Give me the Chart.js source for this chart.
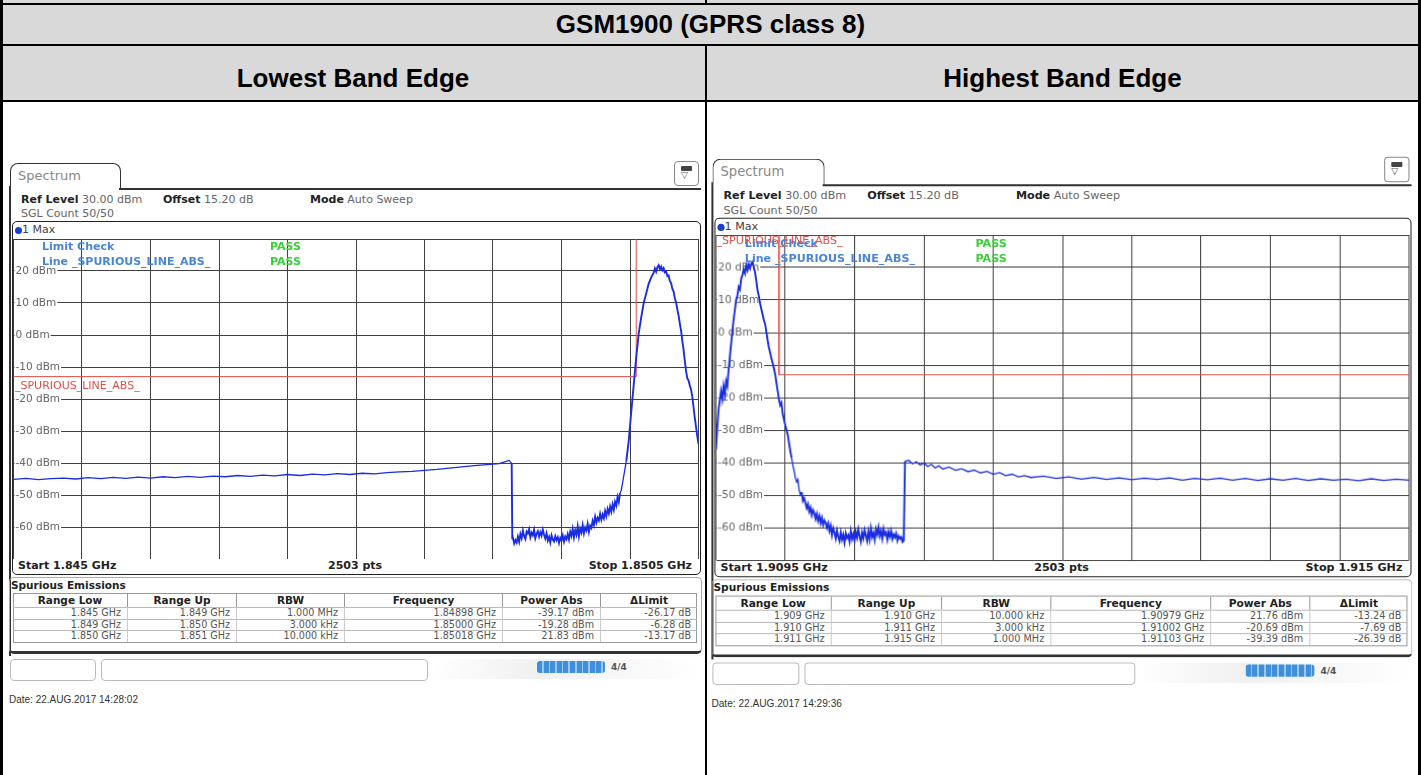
<!DOCTYPE html>
<html>
<head>
<meta charset="utf-8">
<title>GSM1900 (GPRS class 8) band edge</title>
<script src="https://cdn.jsdelivr.net/npm/chart.js@4.4.1/dist/chart.umd.min.js"></script>
<style>
html,body{margin:0;padding:0;background:#fff;}
#page{position:relative;width:1421px;height:775px;overflow:hidden;background:#fff;}
.blk{position:absolute;background:#000;}
.gray{position:absolute;background:#d9d9d9;}
.ttl{position:absolute;font-family:"Liberation Sans",Arial,sans-serif;font-weight:bold;font-size:26px;color:#000;text-align:center;line-height:30px;white-space:nowrap;}
.panel{position:absolute;left:0;top:0;width:712px;height:720px;transform-origin:0 0;font-family:"DejaVu Sans",sans-serif;}
.panel div{position:absolute;white-space:nowrap;}
.t{font-size:11px;line-height:14px;color:#666;}
.t b{color:#222;}
.tab{border:1.5px solid #333;border-bottom:none;border-radius:8px 8px 0 0;background:#fff;color:#888;font-size:13px;line-height:24px;padding-left:7px;box-sizing:border-box;}
.frame{border:1.5px solid #222;border-radius:5px;box-sizing:border-box;background:#fff;}
.lbl{font-size:11px;line-height:14px;font-weight:bold;}
.cell{box-sizing:border-box;font-size:9.6px;line-height:11px;color:#555;text-align:right;padding-right:6px;overflow:hidden;}
.hcell{box-sizing:border-box;font-size:10.5px;line-height:13px;color:#222;font-weight:bold;text-align:center;border-right:1px solid #999;}
</style>
</head>
<body>
<div id="page">
  <!-- outer table -->
  <div class="gray" style="left:0;top:0;width:1421px;height:3px"></div>
  <div class="gray" style="left:0;top:5px;width:1421px;height:39px"></div>
  <div class="gray" style="left:0;top:46px;width:1421px;height:54px"></div>
  <div class="blk" style="left:0;top:3px;width:1421px;height:2px"></div>
  <div class="blk" style="left:0;top:44px;width:1421px;height:2px"></div>
  <div class="blk" style="left:0;top:100px;width:1421px;height:2px"></div>
  <div class="blk" style="left:0;top:0;width:3px;height:775px"></div>
  <div class="blk" style="left:1418px;top:0;width:3px;height:775px"></div>
  <div class="blk" style="left:705px;top:0;width:2px;height:3px"></div>
  <div class="blk" style="left:705px;top:46px;width:2px;height:729px"></div>
  <div class="ttl" style="left:0;top:9px;width:1421px">GSM1900 (GPRS class 8)</div>
  <div class="ttl" style="left:0;top:63px;width:706px">Lowest Band Edge</div>
  <div class="ttl" style="left:706px;top:63px;width:713px">Highest Band Edge</div>

  <div class="panel" id="pL"></div>
  <div class="panel" id="pR" style="transform:translate(702.3px,-6.7px) scale(1.0117,1.0156)"></div>
</div>

<script>
// ---------------- data ----------------
// Left panel: lowest band edge, frequency in MHz, level in dBm
const leftFreq = [
  1845.0,1845.1,1845.2,1845.3,1845.4,1845.5,1845.6,1845.7,1845.8,1845.9,
  1846.0,1846.1,1846.2,1846.3,1846.4,1846.5,1846.6,1846.7,1846.8,1846.9,
  1847.0,1847.1,1847.2,1847.3,1847.4,1847.5,1847.6,1847.7,1847.8,1847.9,
  1848.0,1848.1,1848.2,1848.3,1848.4,1848.5,1848.6,1848.7,1848.8,1848.9,
  1848.95,1848.98,1849.0,1849.005,
  1849.01,1849.02,1849.03,1849.04,1849.05,1849.06,1849.07,1849.08,1849.09,1849.10,
  1849.11,1849.12,1849.13,1849.14,1849.15,1849.16,1849.17,1849.18,1849.19,1849.20,
  1849.21,1849.22,1849.23,1849.24,1849.25,1849.26,1849.27,1849.28,1849.29,1849.30,
  1849.31,1849.32,1849.33,1849.34,1849.35,1849.36,1849.37,1849.38,1849.39,1849.40,
  1849.41,1849.42,1849.43,1849.44,1849.45,1849.46,1849.47,1849.48,1849.49,1849.50,
  1849.51,1849.52,1849.53,1849.54,1849.55,1849.56,1849.57,1849.58,1849.59,1849.60,
  1849.61,1849.62,1849.63,1849.64,1849.65,1849.66,1849.67,1849.68,1849.69,1849.70,
  1849.71,1849.72,1849.73,1849.74,1849.75,1849.76,1849.77,1849.78,1849.79,1849.80,
  1849.81,1849.82,1849.83,1849.84,1849.85,1849.86,1849.87,1849.88,1849.90,1849.92,
  1849.94,1849.96,1849.98,1850.00,1850.02,1850.04,1850.06,1850.08,1850.10,1850.12,
  1850.14,1850.15,1850.16,1850.17,1850.18,1850.19,1850.20,1850.21,1850.22,1850.23,
  1850.24,1850.25,1850.26,1850.27,1850.28,1850.29,1850.30,1850.31,1850.32,1850.33,
  1850.34,1850.35,1850.36,1850.37,1850.38,1850.39,1850.40,1850.41,1850.42,1850.43,
  1850.44,1850.45,1850.46,1850.47,1850.48,1850.49,1850.50
];
const leftLevel = [
  -45.1,-44.8,-45.2,-44.9,-44.7,-45.0,-44.6,-44.9,-44.5,-44.8,
  -44.4,-44.7,-44.3,-44.6,-44.2,-44.5,-44.1,-44.3,-43.9,-44.2,
  -43.8,-44.0,-43.6,-43.9,-43.5,-43.7,-43.3,-43.6,-43.2,-43.4,
  -43.0,-42.8,-42.6,-42.3,-42.0,-41.6,-41.2,-40.8,-40.5,-40.2,
  -39.6,-39.2,-40.1,-63.5,
  -63.4,-65.2,-64.1,-64.9,-63.0,-64.6,-62.2,-63.5,-61.1,-62.9,
  -63.8,-61.4,-62.0,-60.7,-63.2,-61.8,-62.6,-60.9,-63.5,-62.1,
  -61.3,-63.0,-61.6,-62.7,-60.8,-62.4,-63.6,-62.0,-64.2,-63.1,
  -64.8,-62.6,-63.9,-64.5,-62.9,-64.1,-63.2,-65.0,-63.4,-64.3,
  -62.7,-64.6,-63.0,-63.8,-62.2,-63.9,-61.5,-62.8,-60.6,-63.2,
  -61.0,-62.4,-59.8,-62.9,-60.5,-61.7,-59.4,-62.0,-60.2,-61.1,
  -59.0,-61.5,-59.6,-60.3,-58.1,-59.4,-56.8,-58.6,-57.2,-58.0,
  -55.9,-57.7,-56.1,-57.3,-55.0,-56.6,-54.4,-55.8,-53.6,-55.2,
  -52.9,-54.6,-52.1,-53.3,-50.6,-52.2,-49.4,-48.5,-44.0,-39.5,
  -33.0,-24.0,-15.5,-7.0,0.5,5.5,10.0,13.0,16.0,18.0,
  19.5,20.8,19.8,21.2,21.83,20.6,21.4,20.2,20.9,19.6,
  19.9,18.4,18.6,16.9,16.2,14.5,13.6,11.5,10.2,8.0,
  6.1,3.6,1.4,-1.8,-4.6,-8.0,-11.2,-13.5,-14.2,-15.8,
  -17.0,-19.2,-22.5,-25.8,-28.6,-31.5,-34.0
];
const leftLimitFreq = [1845, 1850, 1850];
const leftLimitLevel = [-13, -13, 30];

// Right panel: highest band edge
const rightFreq = [
  1909.50,1909.51,1909.52,1909.53,1909.54,1909.55,1909.56,1909.57,1909.58,1909.59,
  1909.60,1909.61,1909.62,1909.63,1909.64,1909.65,1909.66,1909.67,1909.68,1909.69,
  1909.70,1909.71,1909.72,1909.73,1909.74,1909.75,1909.76,1909.77,1909.78,1909.79,
  1909.80,1909.81,1909.82,1909.83,1909.84,1909.85,1909.86,1909.87,1909.88,1909.89,
  1909.90,1909.91,1909.92,1909.93,1909.94,1909.95,1909.96,1909.97,1909.98,1909.99,
  1910.00,1910.01,1910.02,1910.03,1910.04,1910.05,1910.06,1910.07,1910.08,1910.09,
  1910.10,1910.11,1910.12,1910.13,1910.14,1910.15,1910.16,1910.17,1910.18,1910.19,
  1910.20,1910.21,1910.22,1910.23,1910.24,1910.25,1910.26,1910.27,1910.28,1910.29,
  1910.30,1910.31,1910.32,1910.33,1910.34,1910.35,1910.36,1910.37,1910.38,1910.39,
  1910.40,1910.41,1910.42,1910.43,1910.44,1910.45,1910.46,1910.47,1910.48,1910.49,
  1910.50,1910.51,1910.52,1910.53,1910.54,1910.55,1910.56,1910.57,1910.58,1910.59,
  1910.60,1910.61,1910.62,1910.63,1910.64,1910.65,1910.66,1910.67,1910.68,1910.69,
  1910.70,1910.71,1910.72,1910.73,1910.74,1910.75,1910.76,1910.77,1910.78,1910.79,
  1910.80,1910.81,1910.82,1910.83,1910.84,1910.85,1910.86,1910.87,1910.88,1910.89,
  1910.90,1910.91,1910.92,1910.93,1910.94,1910.95,1910.96,1910.97,1910.98,1910.99,
  1911.00,1911.03,1911.06,1911.09,1911.12,1911.15,1911.18,1911.21,1911.24,
  1911.27,1911.30,1911.35,1911.40,1911.45,1911.50,1911.55,1911.60,1911.65,1911.70,
  1911.75,1911.80,1911.85,1911.90,1911.95,1912.0,1912.1,1912.2,1912.3,1912.4,
  1912.5,1912.6,1912.7,1912.8,1912.9,1913.0,1913.1,1913.2,1913.3,1913.4,
  1913.5,1913.6,1913.7,1913.8,1913.9,1914.0,1914.1,1914.2,1914.3,1914.4,
  1914.5,1914.6,1914.7,1914.8,1914.9,1915.0
];
const rightLevel = [
  -36.0,-29.5,-24.0,-21.0,-18.0,-20.5,-16.5,-19.0,-15.0,-16.5,
  -11.5,-7.5,-3.5,0.5,4.0,7.0,10.0,11.5,14.0,13.2,
  16.5,17.8,19.4,18.2,20.6,19.2,21.0,19.8,21.3,21.76,
  20.0,18.5,15.8,13.0,11.2,9.0,7.2,5.6,3.8,2.6,
  0.2,-2.4,-4.6,-6.2,-8.0,-9.4,-11.0,-12.8,-15.5,-18.0,
  -20.6,-22.4,-21.6,-25.0,-26.8,-28.5,-30.0,-31.5,-34.0,-36.5,
  -38.5,-40.8,-42.5,-44.6,-46.0,-45.2,-48.4,-50.0,-49.1,-51.8,
  -51.0,-52.4,-54.0,-52.8,-55.1,-53.9,-56.2,-54.6,-55.5,-57.3,
  -55.8,-57.9,-56.4,-58.6,-57.0,-59.2,-57.8,-58.5,-60.1,-58.7,
  -61.0,-59.4,-62.3,-60.2,-61.6,-63.4,-60.9,-62.8,-64.1,-61.5,
  -63.7,-62.2,-64.6,-61.8,-63.2,-62.4,-64.3,-61.1,-63.5,-62.0,
  -64.0,-61.4,-63.1,-60.5,-62.7,-64.4,-61.6,-63.3,-60.8,-62.5,
  -64.2,-61.2,-63.6,-60.3,-62.9,-61.7,-63.8,-60.6,-62.1,-59.9,
  -62.6,-61.0,-63.4,-60.4,-62.2,-61.5,-63.7,-61.3,-62.8,-61.0,
  -63.5,-62.1,-63.0,-61.8,-64.0,-62.6,-63.4,-62.9,-64.4,-64.0,
  -39.6,-39.39,-40.4,-39.8,-40.8,-40.2,-41.2,-40.6,-41.6,
  -41.0,-42.0,-41.4,-42.4,-41.9,-42.8,-42.3,-43.2,-42.7,-43.6,
  -43.1,-44.0,-43.6,-44.4,-44.0,-44.6,-44.2,-44.9,-44.4,-45.1,
  -44.6,-45.2,-44.7,-45.3,-44.8,-45.2,-44.7,-45.4,-44.9,-45.3,
  -44.8,-45.4,-44.9,-45.5,-45.0,-45.4,-44.9,-45.5,-45.0,-45.4,
  -45.1,-45.6,-45.0,-45.5,-45.1,-45.4
];
const rightLimitFreq = [1910, 1910, 1915];
const rightLimitLevel = [30, -13, -13];

// axis ranges and tick labels
const refLevel = 30, bottomLevel = -70, levelStep = 10;
const levelLabels = [20, 10, 0, -10, -20, -30, -40, -50, -60];
const leftRange = [1845.0, 1850.5];
const rightRange = [1909.5, 1915.0];
const xDivisions = 10;

// texts
const leftInfo = {start:'Start 1.845 GHz', stop:'Stop 1.8505 GHz', date:'Date: 22.AUG.2017  14:28:02', limitLabelTop:false};
const rightInfo = {start:'Start 1.9095 GHz', stop:'Stop 1.915 GHz', date:'Date: 22.AUG.2017  14:29:36', limitLabelTop:true};
const tableHeader = ['Range Low','Range Up','RBW','Frequency','Power Abs','\u0394Limit'];
const leftRows = [
  ['1.845 GHz','1.849 GHz','1.000 MHz','1.84898 GHz','-39.17 dBm','-26.17 dB'],
  ['1.849 GHz','1.850 GHz','3.000 kHz','1.85000 GHz','-19.28 dBm','-6.28 dB'],
  ['1.850 GHz','1.851 GHz','10.000 kHz','1.85018 GHz','21.83 dBm','-13.17 dB']
];
const rightRows = [
  ['1.909 GHz','1.910 GHz','10.000 kHz','1.90979 GHz','21.76 dBm','-13.24 dB'],
  ['1.910 GHz','1.911 GHz','3.000 kHz','1.91002 GHz','-20.69 dBm','-7.69 dB'],
  ['1.911 GHz','1.915 GHz','1.000 MHz','1.91103 GHz','-39.39 dBm','-26.39 dB']
];

// ---------------- layout ----------------
const colEdges = [13, 128, 237, 345, 503, 601, 697];

function buildPanel(el, info, rows, canvasId) {
  let h = '';
  h += '<div style="left:9px;top:186px;width:1.5px;height:470px;background:#333"></div>';
  h += '<div class="tab" style="left:10px;top:163px;width:111px;height:27px">Spectrum</div>';
  h += '<div style="left:119px;top:188px;width:582px;height:1.5px;background:#333"></div>';
  h += '<div style="left:674px;top:161px;width:25px;height:25px;border:1.2px solid #888;border-radius:4px;box-sizing:border-box;background:#fff">'
     + '<div style="left:6px;top:4px;width:11px;height:5px;background:#444;border-radius:1px"></div>'
     + '<div style="left:6px;top:8px;font-size:9px;line-height:10px;color:#555">\u25BD</div></div>';
  h += '<div class="t" style="left:21px;top:193px"><b>Ref Level</b> 30.00 dBm</div>';
  h += '<div class="t" style="left:163px;top:193px"><b>Offset</b> 15.20 dB</div>';
  h += '<div class="t" style="left:310px;top:193px"><b>Mode</b> Auto Sweep</div>';
  h += '<div class="t" style="left:21px;top:207px">SGL Count 50/50</div>';
  h += '<div class="frame" style="left:12px;top:221px;width:689px;height:354px"></div>';
  h += '<div style="left:15px;top:227px;width:7px;height:7px;border-radius:50%;background:#1a3fd0"></div>';
  h += '<div class="t" style="left:22px;top:223px;color:#444">1 Max</div>';
  h += '<div style="left:12px;top:237px;width:688px;height:322px"><canvas id="' + canvasId + '"></canvas></div>';
  h += '<div class="lbl" style="left:42px;top:240px;color:#4a86d8">Limit Check</div>';
  h += '<div class="lbl" style="left:42px;top:255px;color:#4a86d8">Line _SPURIOUS_LINE_ABS_</div>';
  h += '<div class="lbl" style="left:270px;top:240px;color:#3ccf3c">PASS</div>';
  h += '<div class="lbl" style="left:270px;top:255px;color:#3ccf3c">PASS</div>';
  if (info.limitLabelTop) {
    h += '<div class="t" style="left:14px;top:237px;color:#e0504a">_SPURIOUS_LINE_ABS_</div>';
  } else {
    h += '<div class="t" style="left:15px;top:379px;color:#e0504a">_SPURIOUS_LINE_ABS_</div>';
  }
  h += '<div class="lbl" style="left:18px;top:559px;color:#222">' + info.start + '</div>';
  h += '<div class="lbl" style="left:328px;top:559px;color:#222">2503 pts</div>';
  h += '<div class="lbl" style="right:' + (712 - 692) + 'px;top:559px;color:#222">' + info.stop + '</div>';
  // spurious emissions panel
  h += '<div style="left:9px;top:577px;width:693px;height:77px;border:1px solid #aaa;border-bottom:3px solid #333;border-radius:5px;box-sizing:border-box"></div>';
  h += '<div class="lbl" style="left:11px;top:578px;color:#222;font-size:10.5px">Spurious Emissions</div>';
  const tTop = 593, hH = 14, rH = 11.5;
  h += '<div style="left:' + colEdges[0] + 'px;top:' + tTop + 'px;width:' + (colEdges[6]-colEdges[0]) + 'px;height:' + (hH + 3*rH + 1) + 'px;border:1px solid #999;box-sizing:border-box"></div>';
  for (let c = 0; c < 6; c++) {
    const x = colEdges[c], w = colEdges[c+1] - colEdges[c];
    h += '<div class="hcell" style="left:' + x + 'px;top:' + (tTop+1) + 'px;width:' + w + 'px;height:' + (hH-1) + 'px;' + (c===5?'border-right:none;':'') + '">' + tableHeader[c] + '</div>';
    for (let r = 0; r < rows.length; r++) {
      h += '<div class="cell" style="left:' + x + 'px;top:' + (tTop + hH + r*rH) + 'px;width:' + w + 'px;height:' + rH + 'px;border-right:' + (c===5?'none':'1px solid #ccc') + ';border-top:1px solid #bbb;line-height:' + (rH-1) + 'px">' + rows[r][c] + '</div>';
    }
  }
  // bottom controls
  h += '<div style="left:10px;top:659px;width:86px;height:22px;border:1px solid #bbb;border-radius:4px;box-sizing:border-box"></div>';
  h += '<div style="left:101px;top:659px;width:327px;height:22px;border:1px solid #bbb;border-radius:4px;box-sizing:border-box"></div>';
  h += '<div style="left:430px;top:659px;width:270px;height:20px;background:linear-gradient(90deg,#fff 0%,#f0f0f0 40%,#fff 100%)"></div>';
  h += '<div style="left:537px;top:661px;width:68px;height:12px;border-radius:3px;background:repeating-linear-gradient(90deg,#3f8fdc 0,#3f8fdc 5px,#9cc8f0 5px,#9cc8f0 6.6px)"></div>';
  h += '<div style="left:611px;top:661px;font-size:9px;line-height:12px;font-weight:bold;color:#555">4/4</div>';
  h += '<div style="left:9px;top:694px;font-family:\'Liberation Sans\',Arial,sans-serif;font-size:10px;line-height:12px;color:#333">' + info.date + '</div>';
  el.innerHTML = h;
}

buildPanel(document.getElementById('pL'), leftInfo, leftRows, 'cL');
buildPanel(document.getElementById('pR'), rightInfo, rightRows, 'cR');

// level labels drawn inside the grid, above grid lines and below the trace
const levelLabelPlugin = {
  id: 'levelLabels',
  beforeDatasetsDraw(chart) {
    const {ctx, chartArea} = chart;
    const ys = chart.scales.y;
    ctx.save();
    ctx.font = '10.5px "DejaVu Sans"';
    ctx.textBaseline = 'middle';
    ctx.textAlign = 'left';
    levelLabels.forEach(v => {
      const y = ys.getPixelForValue(v);
      const txt = v + ' dBm';
      const w = ctx.measureText(txt).width;
      const x = chartArea.left + 2;
      ctx.fillStyle = '#ffffff';
      ctx.fillRect(x - 1, y - 6, w + 2, 12);
      ctx.fillStyle = '#666';
      ctx.fillText(txt, x, y);
    });
    ctx.restore();
  }
};

// thicker trace where the analyser noise is strong (peak and noise floor)
const traceWidth = c => {
  const a = c.p0.parsed.y, b = c.p1.parsed.y;
  return (Math.max(a, b) > -37 || Math.min(a, b) < -50) ? 1.9 : 1.3;
};

function makeChart(id, freq, level, limF, limL, range, pad) {
  const trace = freq.map((f, i) => ({x: f, y: level[i]}));
  const limit = limF.map((f, i) => ({x: f, y: limL[i]}));
  const [fmin, fmax] = range;
  return new Chart(document.getElementById(id), {
    type: 'line',
    data: {
      datasets: [
        {label: '1 Max', data: trace, borderColor: '#1a2de0', borderWidth: 1.5, segment: {borderWidth: traceWidth}, pointRadius: 0, tension: 0, fill: false},
        {label: '_SPURIOUS_LINE_ABS_', data: limit, borderColor: '#e0504a', borderWidth: 1, pointRadius: 0, tension: 0, fill: false}
      ]
    },
    plugins: [levelLabelPlugin],
    options: {
      responsive: true, maintainAspectRatio: false, animation: false, events: [],
      layout: {padding: pad},
      plugins: {legend: {display: false}, tooltip: {enabled: false}},
      scales: {
        x: {
          type: 'linear', min: fmin, max: fmax,
          ticks: {display: false},
          grid: {color: '#404040', lineWidth: 1, drawTicks: false},
          border: {display: false},
          afterBuildTicks: s => {
            const t = [];
            for (let i = 0; i <= xDivisions; i++) t.push({value: fmin + (fmax - fmin) * i / xDivisions});
            s.ticks = t;
          },
          afterFit: s => { s.height = 0; }
        },
        y: {
          type: 'linear', min: bottomLevel, max: refLevel,
          ticks: {display: false, stepSize: levelStep},
          grid: {color: '#404040', lineWidth: 1, drawTicks: false},
          border: {display: false},
          afterFit: s => { s.width = 0; }
        }
      }
    }
  });
}

makeChart('cL', leftFreq, leftLevel, leftLimitFreq, leftLimitLevel, leftRange, {left: 1.5, right: 1.5, top: 2, bottom: 0});
makeChart('cR', rightFreq, rightLevel, rightLimitFreq, rightLimitLevel, rightRange, {left: 1.5, right: 1.5, top: 1, bottom: 1});
</script>
</body>
</html>
